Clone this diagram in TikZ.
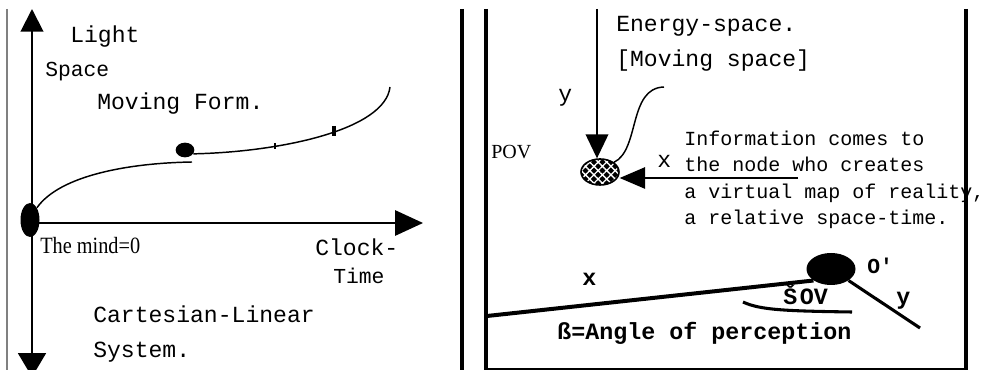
\documentclass[tikz,border=0pt]{standalone}
\usepackage{fontspec}
\setmainfont{Liberation Serif}
\setmonofont{Liberation Mono}
\newfontfamily\narrowserif[FakeStretch=0.87]{Liberation Serif}
\usetikzlibrary{arrows.meta,shapes.geometric,patterns.meta}
\tikzset{
  axis/.style={line width=1.5pt, draw=black},
  frame/.style={line width=3pt, draw=black},
  curve/.style={line width=1.1pt, draw=black},
  heavy/.style={line width=3pt, draw=black},
  blob/.style={ellipse, fill=black, inner sep=0pt},
  hatch/.style={ellipse, draw=black, line width=1.2pt, inner sep=0pt,
                preaction={fill=black},
                pattern={Hatch[angle=45,distance=4.5pt,line width=1pt]}, pattern color=white},
  txt/.style={font=\ttfamily\fontsize{17.3pt}{26.25pt}\selectfont,
              inner sep=0pt, anchor=base west, align=left},
  txts/.style={txt, font=\ttfamily\fontsize{16pt}{20pt}\selectfont},
  info/.style={txt, font=\ttfamily\fontsize{15pt}{19.9pt}\selectfont},
  btxt/.style={txt, font=\ttfamily\bfseries\fontsize{17.5pt}{20pt}\selectfont},
  serif/.style={txt, font=\narrowserif\fontsize{17.5pt}{20pt}\selectfont},
  pov/.style={txt, font=\rmfamily\fontsize{15pt}{18pt}\selectfont},
}
\begin{document}
\begin{tikzpicture}[x=0.75pt, y=-0.75pt]
  \useasboundingbox (0,0) rectangle (992,370);
  \clip (0,0) rectangle (992,370);

  % left panel -- axes of the linear system
  \draw[gray, line width=0.8pt] (7,9) -- (7,370);
  \coordinate (ytop) at (32,9);
  \coordinate (ybot) at (32,377);
  \coordinate (origin) at (32,223);
  \coordinate (xend) at (423,223);
  \draw[axis, {Triangle[length=17pt,width=17pt]}-{Triangle[length=18pt,width=21pt]}] (ytop) -- (ybot);
  \draw[axis, -{Triangle[length=21pt,width=19pt]}] (origin) -- (xend);

  % left panel -- moving form
  \node[blob, minimum width=14.25pt, minimum height=25.5pt] (mind) at (30,220){};
  \node[blob, minimum width=14pt, minimum height=11pt] (form) at (185,150){};
  \coordinate (formin) at (192,162);
  \coordinate (formtop) at (390,87);
  \draw[curve] (mind.north east) .. controls (60,175) and (130,163) .. (formin);
  \draw[curve] (form.-25) .. controls (280,152) and (385,130) .. (formtop);
  \draw[line width=2pt] (275,143) -- (275,149);
  \draw[line width=2.5pt] (334,126) -- (334,136);

  \node[txt] (light) at (70,43){Light};
  \node[txts] (space) at (45,77){Space};
  \node[txt] (moving) at (97,110){Moving Form.};
  \node[serif] (zero) at (40,254){The mind=0};
  \node[txt] (clock) at (315,256){Clock-};
  \node[txts] (time) at (333,283){Time};
  \node[txt] (cart) at (93,357){Cartesian-Linear\\System.};

  % right panel -- frame
  \draw[frame] (462,9) -- (462,370);
  \draw[frame] (486,9) -- (486,370);
  \draw[frame] (966,9) -- (966,370);
  \draw[line width=1.5pt] (486,369) -- (966,369);

  % right panel -- node receiving the information
  \node[hatch, minimum width=28.5pt, minimum height=19.5pt] (node) at (600,172){};
  \coordinate (etop) at (597,9);
  \coordinate (xin) at (798,178);
  \coordinate (wave) at (664,87);
  \draw[curve, -{Triangle[length=18pt,width=17pt]}] (etop) -- (etop |- node.north);
  \draw[curve, -{Triangle[length=19pt,width=16pt]}] (xin) -- (xin -| node.east);
  \draw[curve] (wave) .. controls (628,88) and (640,150) .. (node.north east);

  \node[txt] (energy) at (616,67){Energy-space.\\{[Moving space]}};
  \node[txt] (ylab) at (558,102){y};
  \node[pov] (povlab) at (491,159){POV};
  \node[txt] (xlab) at (657,168){x};
  \node[info] (infotxt) at (684,225){Information comes to\\the node who creates\\a virtual map of reality,\\a relative space-time.};

  % right panel -- observer and angle of perception
  \node[blob, minimum width=36.75pt, minimum height=24pt] (obs) at (831,269){};
  \coordinate (xleft) at (487,316);
  \coordinate (yend) at (920,328);
  \draw[heavy] (xleft) -- (obs.south west);
  \draw[line width=2.3pt] (obs.south east) -- (yend);
  \draw[line width=2.3pt] (743,302) .. controls (760,310) and (785,311) .. (852,312);

  \node[btxt] (bx) at (582,286){x};
  \node[btxt, font=\ttfamily\bfseries\fontsize{16pt}{20pt}\selectfont] (oprime) at (867,273){O'};
  \node[btxt] (sov) at (783,305){Š\hspace{2pt}OV};
  \node[btxt] (by) at (896,305){y};
  \node[btxt] (beta) at (557,339){ß=Angle of perception};
\end{tikzpicture}
\end{document}
